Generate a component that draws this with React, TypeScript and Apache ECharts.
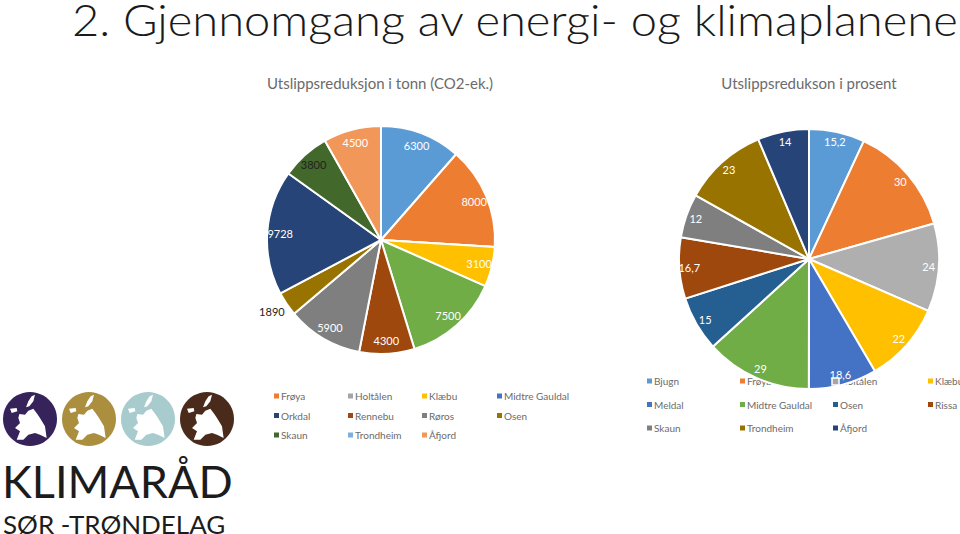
import React, { useEffect, useRef } from "react";
import * as echarts from "echarts";

const leftNames = ["Trondheim", "Frøya", "Holtålen", "Klæbu", "Midtre Gauldal", "Rennebu", "Røros", "Osen", "Orkdal", "Skaun", "Åfjord"];
const leftValues = [6300, 8000, 0, 3100, 7500, 4300, 5900, 1890, 9728, 3800, 4500];
const rightNames = ["Bjugn", "Frøya", "Holtålen", "Klæbu", "Meldal", "Midtre Gauldal", "Osen", "Rissa", "Skaun", "Trondheim", "Åfjord"];
const rightValues = [15.2, 30, 24, 22, 18.6, 29, 15, 16.7, 12, 23, 14];
const leftSliceColors = ["#5B9BD5", "#ED7D31", "#A5A5A5", "#FFC000", "#70AD47", "#9E480E", "#7F7F7F", "#997300", "#264478", "#43682B", "#F1975A"];
const rightSliceColors = ["#5B9BD5", "#ED7D31", "#AFAFAF", "#FFC000", "#4472C4", "#70AD47", "#255E91", "#9E480E", "#7F7F7F", "#997300", "#264478"];
const leftLegendColumns = [["Frøya", "Orkdal", "Skaun"], ["Holtålen", "Rennebu", "Trondheim"], ["Klæbu", "Røros", "Åfjord"], ["Midtre Gauldal", "Osen"]];
const rightLegendColumns = [["Bjugn", "Meldal", "Skaun"], ["Frøya", "Midtre Gauldal", "Trondheim"], ["Holtålen", "Osen", "Åfjord"], ["Klæbu", "Rissa"]];
const leftLegendColors: Record<string, string> = {
  "Frøya": "#ED7D31", "Holtålen": "#A5A5A5", "Klæbu": "#FFC000", "Midtre Gauldal": "#4472C4", "Orkdal": "#264478", "Rennebu": "#9E480E",
  "Røros": "#7F7F7F", "Osen": "#997300", "Skaun": "#43682B", "Trondheim": "#7CAFDD", "Åfjord": "#F1975A",
};
const rightLegendColors: Record<string, string> = {
  "Bjugn": "#5B9BD5", "Frøya": "#ED7D31", "Holtålen": "#A5A5A5", "Klæbu": "#FFC000", "Meldal": "#4472C4", "Midtre Gauldal": "#70AD47",
  "Osen": "#255E91", "Rissa": "#9E480E", "Skaun": "#7F7F7F", "Trondheim": "#997300", "Åfjord": "#264478",
};
const titleText = "2. Gjennomgang av energi- og klimaplanene";
const leftTitle = "Utslippsreduksjon i tonn (CO2-ek.)";
const rightTitle = "Utslippsredukson i prosent";
const logoCircles = ["#35235A", "#AB8F3F", "#A8CBCD", "#4A2A1A"];

const FONT = "Lato, Carlito, sans-serif";
const GREY = "#6b6b6b";

const silhouette =
  "M-32 -15 L-15 -13 L-5 -25 L10 -31 L22 -15 L30 -3 L45 22 L50 57 L30 47 L15 42 L-5 47 L-20 62 L-40 62 L-30 37 L-45 27 L-30 12 L-35 -3 Z " +
  "M15 -73 L5 -68 L-5 -53 L-12 -35 L-2 -38 L10 -53 Z M-60 -31 L-40 -33 L-38 -23 L-55 -18 Z";
echarts.graphic.registerShape("logoMap", echarts.graphic.extendPath(silhouette, {}));

function pieSeries(names: string[], values: number[], colors: string[], center: number[], radius: number, labelRadius: number, darkLabels: string[], outside: string[]) {
  const rows = names.map((name, i) => ({ name, value: values[i], color: colors[i] }));
  return [
    {
      type: "pie", z: 3, center, radius, silent: true, legendHoverLink: false,
      itemStyle: { borderColor: "#fff", borderWidth: 2 },
      label: { show: false }, labelLine: { show: false },
      data: rows.map((r) => ({ name: r.name, value: r.value, itemStyle: { color: r.color } })),
    },
    {
      type: "pie", z: 4, center, radius: [2 * labelRadius - radius, radius], silent: true, legendHoverLink: false,
      itemStyle: { color: "transparent", borderWidth: 0 },
      labelLayout: (params: any) => (outside.includes(params.text) ? { dx: -1, dy: 8, hideOverlap: false } : { hideOverlap: false }),
      data: rows.map((r) => {
        const isOut = outside.includes(String(r.value));
        return {
          name: r.name, value: r.value,
          label: {
            show: r.value > 0,
            position: isOut ? "outside" : "inside",
            color: darkLabels.includes(String(r.value)) ? "#222" : "#fff",
            fontFamily: FONT, fontSize: 11,
            distanceToLabelLine: 1,
            formatter: () => String(r.value).replace(".", ","),
          },
          labelLine: { show: false, length: 0, length2: 0 },
        };
      }),
    },
  ];
}

function legends(columns: string[][], colors: Record<string, string>, lefts: number[], top: number, gap: number) {
  return columns.map((col, i) => ({
    orient: "vertical", left: lefts[i], top, z: 1, padding: 0, itemGap: gap,
    itemWidth: 5, itemHeight: 5, icon: "rect", selectedMode: false, itemStyle: { borderWidth: 0 },
    textStyle: { color: GREY, fontFamily: FONT, fontSize: 10, padding: [0, 0, 0, -3] },
    data: col.map((name) => ({ name, itemStyle: { color: colors[name], borderWidth: 0 } })),
  }));
}

export default function App() {
  const ref = useRef<HTMLDivElement>(null);
  useEffect(() => {
    const chart = echarts.init(ref.current!, undefined, { renderer: "svg" });
    const logo: any[] = logoCircles.flatMap((color, i) => {
      const cx = 30 + i * 59;
      return [
        { type: "circle", shape: { cx, cy: 419, r: 27 }, style: { fill: color } },
        { type: "logoMap", x: cx, y: 419, scaleX: 1 / 3, scaleY: 1 / 3, style: { fill: "#fff" } },
      ];
    });
    chart.setOption({
      animation: false,
      backgroundColor: "#fff",
      series: [
        ...pieSeries(leftNames, leftValues, leftSliceColors, [381, 240], 114, 98, ["3800", "1890"], ["1890"]),
        ...pieSeries(rightNames, rightValues, rightSliceColors, [809, 259], 130, 117, [], []),
      ],
      legend: [
        ...legends(leftLegendColumns, leftLegendColors, [274, 348, 422, 497], 391, 9.5),
        ...legends(rightLegendColumns, rightLegendColors, [647, 740, 833, 928], 376, 13.5),
      ],
      graphic: [
        { type: "text", x: 72, y: 1, scaleX: 1.07, z: 10, style: { text: titleText, fill: "#1a1a1a", font: `300 44px ${FONT}`, lineHeight: 36 } },
        { type: "text", x: 380, y: 75, z: 10, style: { text: leftTitle, fill: GREY, align: "center", font: `15px ${FONT}` } },
        { type: "text", x: 809, y: 75, z: 10, style: { text: rightTitle, fill: GREY, align: "center", font: `15px ${FONT}` } },
        ...logo,
        { type: "text", x: 2, y: 458, style: { text: "KLIMARÅD", fill: "#1c1c1c", font: `400 45px ${FONT}` } },
        { type: "text", x: 3, y: 514, scaleX: 1.04, style: { text: "SØR -TRØNDELAG", fill: "#1c1c1c", font: `400 25px ${FONT}`, lineHeight: 20 } },
        { type: "rect", z: 20, shape: { x: 832, y: 378, width: 7, height: 7 }, style: { fill: "#A5A5A5", stroke: "#fff", lineWidth: 1.5 } },
      ],
    });
    return () => chart.dispose();
  }, []);
  return <div ref={ref} style={{ position: "fixed", left: 0, top: 0, width: 960, height: 534 }} />;
}
